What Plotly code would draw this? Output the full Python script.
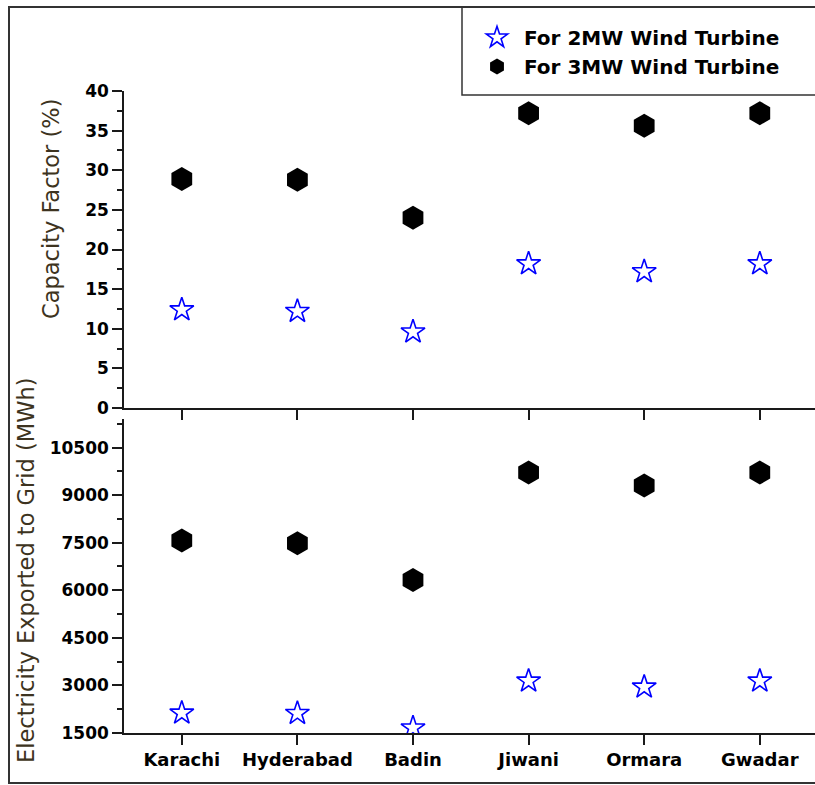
import plotly.graph_objects as go

# ---------------- data ----------------
cities = ["Karachi", "Hyderabad", "Badin", "Jiwani", "Ormara", "Gwadar"]
cf_2mw = [12.4, 12.2, 9.6, 18.2, 17.2, 18.2]
cf_3mw = [28.9, 28.8, 24.0, 37.2, 35.6, 37.2]
grid_2mw = [2130, 2120, 1660, 3140, 2950, 3140]
grid_3mw = [7570, 7480, 6320, 9710, 9300, 9710]
series_names = ["For 2MW Wind Turbine", "For 3MW Wind Turbine"]
cf_title = "Capacity Factor (%)"
grid_title = "Electricity Exported to Grid (MWh)"

# ---------------- layout helpers (pixel -> paper) ----------------
W, H = 815, 785
L, R, T, B = 124, 0, 91, 785 - 733
PW, PH = W - L - R, H - T - B


def px(xp):
    return (xp - L) / PW


def py(yp):
    return (H - B - yp) / PH


FONT = "DejaVu Sans"
AX = "#1a1a1a"
STAR = dict(symbol="star-open", size=18, color="#0000ff", line=dict(color="#0000ff", width=1.6))
HEX = dict(symbol="hexagon", size=24, color="#000000", line=dict(width=0))

fig = go.Figure()
fig.add_trace(go.Scatter(x=cities, y=cf_2mw, mode="markers", marker=STAR,
                         name=series_names[0], xaxis="x", yaxis="y"))
fig.add_trace(go.Scatter(x=cities, y=cf_3mw, mode="markers", marker=HEX,
                         name=series_names[1], xaxis="x", yaxis="y"))
fig.add_trace(go.Scatter(x=cities, y=grid_2mw, mode="markers", marker=STAR,
                         name=series_names[0], xaxis="x2", yaxis="y2", showlegend=False))
fig.add_trace(go.Scatter(x=cities, y=grid_3mw, mode="markers", marker=HEX,
                         name=series_names[1], xaxis="x2", yaxis="y2", showlegend=False))

xr = [-0.5, -0.5 + PW / 115.6]
common_x = dict(type="category", range=xr, showline=True, linecolor=AX, linewidth=1.5,
                ticks="outside", ticklen=10, tickwidth=1.5, tickcolor=AX,
                showgrid=False, zeroline=False, fixedrange=True)
common_y = dict(showline=True, linecolor=AX, linewidth=1.5, ticks="outside", ticklen=10,
                tickwidth=1.5, tickcolor=AX, showgrid=False, zeroline=False, tickformat="d",
                tickfont=dict(family=FONT, size=17, color="#000", weight="bold"))

top_lo = py(408)
bot_hi = py(419)

fig.update_layout(
    width=W, height=H,
    margin=dict(l=L, r=R, t=T, b=B, pad=0),
    paper_bgcolor="white", plot_bgcolor="white",
    font=dict(family=FONT, color="#000"),
    xaxis=dict(common_x, domain=[0, 1], anchor="y", showticklabels=False),
    yaxis=dict(common_y, domain=[top_lo, 1], anchor="x", range=[0, 40], dtick=5, tick0=0,
               minor=dict(dtick=2.5, ticklen=5, tickwidth=1.5, tickcolor=AX, ticks="outside")),
    xaxis2=dict(common_x, domain=[0, 1], anchor="y2",
                tickfont=dict(family=FONT, size=18, color="#000", weight="bold")),
    yaxis2=dict(common_y, domain=[0, bot_hi], anchor="x2", range=[1500, 11400], dtick=1500,
                tick0=1500,
                minor=dict(dtick=750, ticklen=5, tickwidth=1.5, tickcolor=AX, ticks="outside")),
    legend=dict(x=px(470), y=py(18), xanchor="left", yanchor="top", itemwidth=44,
                bgcolor="rgba(0,0,0,0)", borderwidth=0,
                font=dict(family=FONT, size=20, color="#000", weight="bold")),
    showlegend=True,
)

# outer frame and legend box
fig.add_shape(type="rect", xref="paper", yref="paper",
              x0=px(9), x1=px(W + 10), y0=py(783), y1=py(7),
              line=dict(color="#333", width=2), fillcolor="rgba(0,0,0,0)", layer="above")
fig.add_shape(type="rect", xref="paper", yref="paper",
              x0=px(462), x1=px(W + 10), y0=py(95), y1=py(7),
              line=dict(color="#333", width=1.5), fillcolor="rgba(0,0,0,0)", layer="above")

# axis titles
fig.add_annotation(text=cf_title, xref="paper", yref="paper", x=px(51), y=py(209),
                   textangle=-90, showarrow=False, xanchor="center", yanchor="middle",
                   font=dict(family=FONT, size=22.5, color="#3d3320"))
fig.add_annotation(text=grid_title, xref="paper", yref="paper", x=px(26), y=py(571),
                   textangle=-90, showarrow=False, xanchor="center", yanchor="middle",
                   font=dict(family=FONT, size=22.5, color="#3d3320"))

fig.write_html("out.html", config={"displayModeBar": False},
               post_script="document.body.style.margin='0';document.body.style.overflow='hidden';")
